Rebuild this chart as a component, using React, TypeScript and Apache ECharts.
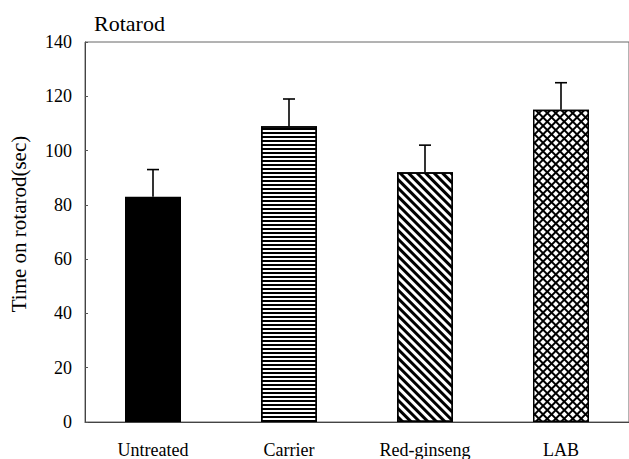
import React, { useEffect, useRef } from "react";
import * as echarts from "echarts";

const categories = ["Untreated", "Carrier", "Red-ginseng", "LAB"];
const means = [83, 109, 92, 115];
const errors = [10, 10, 10, 10];
const yTicks = { min: 0, max: 140, interval: 20 };

const FONT = "Liberation Serif";

export default function App() {
  const ref = useRef<HTMLDivElement>(null);
  useEffect(() => {
    if (!ref.current) return;
    const chart = echarts.init(ref.current, null, { renderer: "svg" });
    const styles: any[] = [
      { color: "#000" },
      { color: "#fff", decal: { symbol: "rect", color: "#000", dashArrayX: [1, 0], dashArrayY: [2, 1.3], rotation: 0 } },
      { color: "#fff", decal: { symbol: "rect", color: "#000", dashArrayX: [1, 0], dashArrayY: [2.2, 2.2], rotation: Math.PI / 4 } },
      { color: "#000", decal: { symbol: "rect", color: "#fff", dashArrayX: [3.4, 1.3], dashArrayY: [3.4, 1.3], rotation: Math.PI / 4 } },
    ];
    const barData = means.map((v, i) => ({ value: v, itemStyle: styles[i] }));
    chart.setOption({
      animation: false,
      title: {
        text: "Rotarod",
        left: 89,
        top: 7,
        textStyle: { fontFamily: FONT, fontSize: 22, fontWeight: "normal", color: "#000" },
      },
      grid: {
        left: 85, top: 42, right: 0, bottom: 37,
        containLabel: false, outerBoundsMode: "none",
        show: true, borderColor: "#666", borderWidth: 1,
      },
      xAxis: {
        type: "category",
        data: categories,
        axisLine: { lineStyle: { color: "#444", width: 1 } },
        axisTick: { inside: true, length: 4, lineStyle: { color: "#555" } },
        axisLabel: { fontFamily: FONT, fontSize: 18, color: "#000", margin: 19 },
      },
      yAxis: {
        type: "value",
        min: yTicks.min,
        max: yTicks.max,
        interval: yTicks.interval,
        name: "Time on rotarod(sec)",
        nameLocation: "middle",
        nameGap: 56,
        nameTextStyle: { fontFamily: FONT, fontSize: 21, color: "#000", padding: [0, 0, 0, 16] },
        splitLine: { show: false },
        axisLine: { show: true, lineStyle: { color: "#444", width: 1 } },
        axisTick: { show: true, inside: true, length: 3, lineStyle: { color: "#555" } },
        axisLabel: { fontFamily: FONT, fontSize: 18, color: "#000", margin: 13 },
      },
      series: [
        {
          type: "bar",
          data: barData,
          barWidth: 56,
          itemStyle: { borderColor: "#000", borderWidth: 1.5 },
        },
        {
          type: "custom",
          data: means.map((v, i) => [i, v, errors[i]]),
          renderItem: (params: any, api: any) => {
            const x = api.value(0);
            const v = api.value(1);
            const e = api.value(2);
            const base = api.coord([x, v]);
            const top = api.coord([x, v + e]);
            return {
              type: "group",
              children: [
                { type: "line", shape: { x1: base[0], y1: base[1], x2: top[0], y2: top[1] }, style: { stroke: "#000", lineWidth: 1.6 } },
                { type: "line", shape: { x1: top[0] - 6, y1: top[1], x2: top[0] + 6, y2: top[1] }, style: { stroke: "#000", lineWidth: 1.6 } },
              ],
            };
          },
          z: 3,
        },
      ],
    });
    return () => chart.dispose();
  }, []);
  return <div ref={ref} style={{ width: 629, height: 459, position: "absolute", left: 0, top: 0, background: "#fff" }} />;
}
